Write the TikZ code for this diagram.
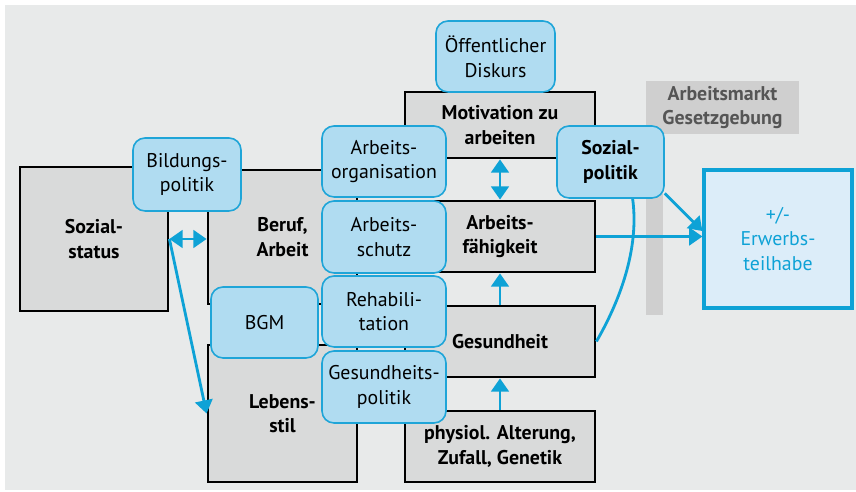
\documentclass[tikz,border=0pt]{standalone}
\usepackage{fontspec}
\setmainfont{PT Sans}
\usetikzlibrary{arrows.meta}
\definecolor{hgrau}{HTML}{E8EAEA}
\definecolor{kgrau}{HTML}{D9DADA}
\definecolor{mgrau}{HTML}{CFCFCF}
\definecolor{tgrau}{HTML}{555555}
\definecolor{pfeilblau}{HTML}{0EA2D6}
\definecolor{blaufill}{HTML}{B0DCF1}
\definecolor{blaurand}{HTML}{1FA5D8}
\definecolor{erwfill}{HTML}{DCEDF9}
\newcommand{\txt}{\fontsize{11.3}{14}\selectfont}
\tikzset{
  groesse/.style 2 args={minimum width=#1*0.02cm, minimum height=#2*0.02cm},
  faktor/.style={draw=black, fill=kgrau, line width=1.6pt, inner sep=0pt, align=center, font=\txt\bfseries},
  politik/.style={draw=blaurand, fill=blaufill, line width=0.9pt, rounded corners=0.24cm, inner sep=0pt, align=center, font=\txt},
  pfeil/.style={draw=pfeilblau, line width=1.6pt, -{Triangle[width=10pt,length=7.5pt]}},
  doppelpfeil/.style={pfeil, {Triangle[width=10pt,length=7.5pt]}-{Triangle[width=10pt,length=7.5pt]}},
}
\begin{document}
\begin{tikzpicture}[x=0.02cm, y=-0.02cm]
  \useasboundingbox (0,0) rectangle (856,492);
  % background
  \fill[hgrau] (5,5) rectangle (856,490);
  % Arbeitsmarkt
  \fill[mgrau] (646,134) rectangle (663,315);
  \node[fill=mgrau, inner sep=0pt, align=center, font=\txt\bfseries, text=tgrau, groesse={153}{53}] (markt) at (722.5,107.5) {Arbeitsmarkt\\Gesetzgebung};
  % factors
  \node[faktor, groesse={148}{144}] (sozial) at (94,239) {Sozial-\\status};
  \node[faktor, groesse={149}{134}] (beruf) at (282.5,237) {Beruf,\\Arbeit};
  \node[faktor, groesse={149}{137}] (lebens) at (282.5,413.5) {Lebens-\\stil};
  \node[faktor, groesse={190}{66}] (motiv) at (500,125) {Motivation zu\\arbeiten};
  \node[faktor, groesse={190}{71}] (arbfaeh) at (500,236.5) {Arbeits-\\fähigkeit};
  \node[faktor, groesse={190}{71}] (gesund) at (500,341.5) {Gesundheit};
  \node[faktor, groesse={190}{71}] (physio) at (500,446.5) {physiol. Alterung,\\Zufall, Genetik};
  \node[draw=pfeilblau, fill=erwfill, line width=1.8pt, inner sep=0pt, align=center, font=\txt, text=pfeilblau, groesse={148}{138}] (erwerb) at (778,239) {+/-\\Erwerbs-\\teilhabe};
  % arrows
  \draw[doppelpfeil] (sozial.east) -- (sozial.east -| beruf.west);
  \draw[pfeil] (sozial.east) -- (lebens.west);
  \draw[doppelpfeil] (motiv) -- (arbfaeh);
  \draw[pfeil] (gesund) -- (arbfaeh);
  \draw[pfeil] (physio) -- (gesund);
  \draw[pfeil] (arbfaeh.east) -- (arbfaeh.east -| erwerb.west);
  \draw[pfeil] (gesund.east) to[out=60, in=-50] (motiv.east);
  % policies
  \node[politik, groesse={119}{71}] (diskurs) at (495.5,56.5) {Öffentlicher\\Diskurs};
  \node[politik, groesse={108}{73}] (bildung) at (187,174.5) {Bildungs-\\politik};
  \node[politik, groesse={124}{71}] (orga) at (384,161.5) {Arbeits-\\organisation};
  \node[politik, groesse={124}{72}] (schutz) at (384,237) {Arbeits-\\schutz};
  \node[politik, groesse={107}{71}] (bgm) at (264.5,322.5) {BGM};
  \node[politik, groesse={124}{71}] (reha) at (384,311.5) {Rehabili-\\tation};
  \node[politik, groesse={124}{72}] (gpolitik) at (384,387) {Gesundheits-\\politik};
  \node[politik, font=\txt\bfseries, groesse={107}{72}] (sozpol) at (610.5,162) {Sozial-\\politik};
  \draw[pfeil] (sozpol.-30) -- (erwerb.174);
\end{tikzpicture}
\end{document}
